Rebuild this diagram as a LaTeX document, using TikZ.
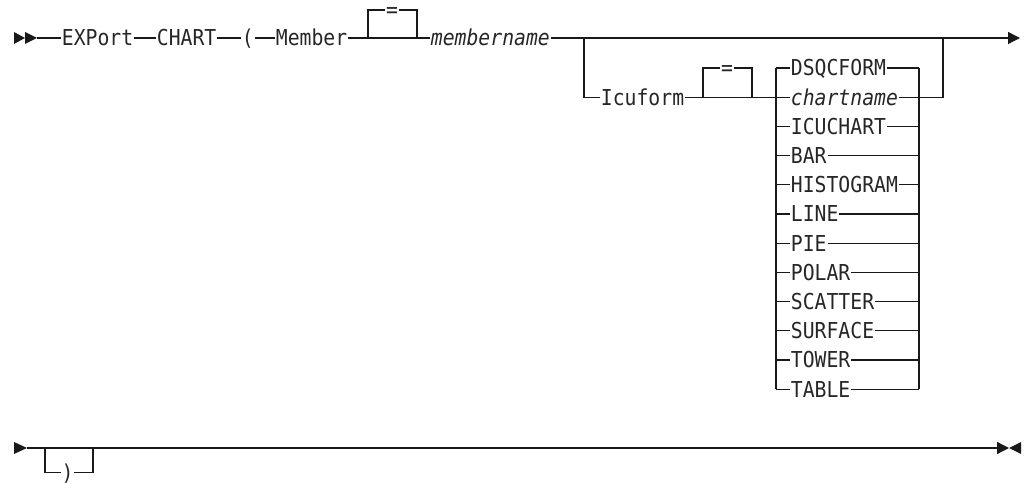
\documentclass[tikz,border=0pt]{standalone}
\usepackage{fontspec}
\setmonofont[FakeStretch=0.9]{DejaVu Sans Mono}
\usetikzlibrary{arrows.meta}

\tikzset{
    kw/.style={font=\ttfamily\fontsize{16.46}{18}\selectfont, text=black!85, inner xsep=0.5pt, inner ysep=0pt, text height=12pt, text depth=0pt, anchor=west},
    rail/.style={line width=1pt, black!90},
    tip/.style={-{Triangle[length=9pt, width=9pt]}},
}

\begin{document}
\begin{tikzpicture}[x=0.75pt, y=-0.75pt]
        \useasboundingbox (0, 0) rectangle (1026, 484);

        % first line
        \fill[black!90] (14, 32) -- (25, 38) -- (14, 44) -- cycle;
        \fill[black!90] (25, 32) -- (37, 38) -- (25, 44) -- cycle;
        \coordinate (s1) at (37, 38);
        \node[kw] (export) at (61, 38) {EXPort};
        \node[kw] (chart) at (156, 38) {CHART};
        \node[kw] (lparen) at (241, 38) {(};
        \node[kw] (member) at (275, 38) {Member};
        \node[kw, anchor=center] (eq1) at (392, 10) {=};
        \node[kw] (membername) at (430, 38) {\textit{membername}};
        \coordinate (e1) at (1020, 38);

        \draw[rail] (s1) -- (export);
        \draw[rail] (export) -- (chart);
        \draw[rail] (chart) -- (lparen);
        \draw[rail] (lparen) -- (member);
        \draw[rail] (member) -- (membername);
        \draw[rail] (368, 38) |- (eq1.west);
        \draw[rail] (eq1.east) -| (417, 38);
        \draw[rail, tip] (membername) -- (e1);

        % Icuform branch
        \node[kw] (icuform) at (600, 97.2) {Icuform};
        \node[kw, anchor=center] (eq2) at (727, 68) {=};
        \draw[rail] (584, 38) |- (icuform);
        \draw[rail] (703, 97.2) |- (eq2.west);
        \draw[rail] (eq2.east) -| (752, 97.2);

        \foreach \name/\lbl [count=\i from 0] in {dsqcform/DSQCFORM, chartname/\textit{chartname}, icuchart/ICUCHART, bar/BAR, histogram/HISTOGRAM, line/LINE, pie/PIE, polar/POLAR, scatter/SCATTER, surface/SURFACE, tower/TOWER, table/TABLE}{
                \pgfmathsetmacro{\y}{68 + 29.2*\i}
                \node[kw] (\name) at (790, \y) {\lbl};
                \draw[rail] (776, \y) -- (\name);
                \draw[rail] (\name) -- (919, \y);
            }

        \draw[rail] (icuform) -- (776, 97.2);
        \draw[rail] (776, 68) -- (776, 389.2);
        \draw[rail] (919, 68) -- (919, 389.2);
        \draw[rail] (919, 97.2) -| (943, 38);

        % second line
        \fill[black!90] (14, 442) -- (27, 448) -- (14, 454) -- cycle;
        \coordinate (s2) at (27, 448);
        \node[kw, anchor=center] (rparen) at (67.5, 472.5) {)};
        \coordinate (e2) at (1009, 448);
        \draw[rail, tip] (s2) -- (e2);
        \draw[rail] (45, 448) |- (rparen.west);
        \draw[rail] (rparen.east) -| (93, 448);
        \fill[black!90] (1021, 442) -- (1009, 448) -- (1021, 454) -- cycle;
    \end{tikzpicture}
\end{document}
